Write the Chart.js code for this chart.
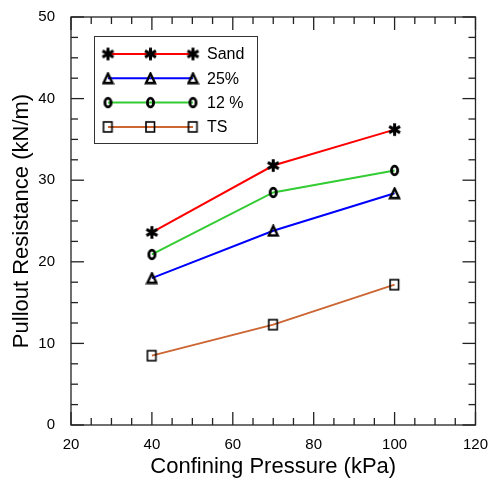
<!DOCTYPE html>
<html>
<head>
<meta charset="utf-8">
<script src="https://cdn.jsdelivr.net/npm/chart.js@4.4.0/dist/chart.umd.min.js"></script>
<style>
  html, body { margin: 0; padding: 0; background: #fff; }
  #wrap { width: 491px; height: 487px; }
</style>
</head>
<body>
<div id="wrap"><canvas id="chart"></canvas></div>
<script>
// pullout resistance vs confining pressure
const pressure = [40, 70, 100];
const sand = [23.6, 31.8, 36.2];
const pct25 = [18.0, 23.8, 28.4];
const pct12 = [20.9, 28.5, 31.2];
const ts = [8.5, 12.3, 17.2];
const seriesNames = ["Sand", "25%", "12 %", "TS"];
const xTicks = [20, 40, 60, 80, 100, 120];
const yTicks = [0, 10, 20, 30, 40, 50];

Chart.defaults.font.family = "'Liberation Sans', Arial, Helvetica, sans-serif";
Chart.defaults.color = "#000";

// small black marker glyphs used as pointStyle
function marker(w, h, draw) {
  const c = document.createElement("canvas");
  c.width = w; c.height = h;
  const g = c.getContext("2d");
  g.strokeStyle = "#000";
  draw(g, w, h);
  return c;
}
const starImg = marker(15, 15, g => {
  g.lineWidth = 3;
  for (let i = 0; i < 3; i++) {
    const t = Math.PI / 2 + i * Math.PI / 3;
    g.beginPath();
    g.moveTo(7.5 + 6.3 * Math.cos(t), 7.5 - 6.3 * Math.sin(t));
    g.lineTo(7.5 - 6.3 * Math.cos(t), 7.5 + 6.3 * Math.sin(t));
    g.stroke();
  }
});
const triImg = marker(13, 13, g => {
  g.lineWidth = 2.4;
  g.lineJoin = "miter";
  g.beginPath();
  g.moveTo(6.5, 1.8); g.lineTo(11, 11.2); g.lineTo(2, 11.2); g.closePath();
  g.stroke();
});
const circImg = marker(13, 13, g => {
  g.lineWidth = 2.8;
  g.beginPath();
  g.ellipse(6.5, 6.5, 3.1, 4.3, 0, 0, Math.PI * 2);
  g.stroke();
});
const sqImg = marker(13, 14, g => {
  g.lineWidth = 1.6;
  g.strokeRect(2, 2, 8.5, 10);
});

function series(label, data, color, img) {
  return {
    label,
    data: pressure.map((p, i) => ({ x: p, y: data[i] })),
    borderColor: color,
    backgroundColor: color,
    borderWidth: 2,
    pointStyle: img,
    pointRadius: 6,
    tension: 0
  };
}

// box frame with inward major/minor ticks on all four sides
const frameTicks = {
  id: "frameTicks",
  afterDatasetsDraw(chart) {
    const { ctx, chartArea: a, scales: { x, y } } = chart;
    ctx.save();
    ctx.strokeStyle = "#222";
    ctx.lineWidth = 1.3;
    ctx.strokeRect(a.left, a.top, a.right - a.left, a.bottom - a.top);
    const seg = (x1, y1, x2, y2) => { ctx.beginPath(); ctx.moveTo(x1, y1); ctx.lineTo(x2, y2); ctx.stroke(); };
    for (let v = x.min; v <= x.max; v += 5) {
      const px = x.getPixelForValue(v);
      const len = xTicks.includes(v) ? 13 : 7;
      seg(px, a.bottom, px, a.bottom - len);
      seg(px, a.top, px, a.top + len);
    }
    for (let v = y.min; v <= y.max; v += 2.5) {
      const py = y.getPixelForValue(v);
      const len = yTicks.includes(v) ? 13 : 7;
      seg(a.left, py, a.left + len, py);
      seg(a.right, py, a.right - len, py);
    }
    ctx.restore();
  }
};

// legend: each entry is a line with three markers
const lineLegend = {
  id: "lineLegend",
  afterDraw(chart) {
    const { ctx } = chart;
    ctx.save();
    ctx.strokeStyle = "#333";
    ctx.lineWidth = 1;
    ctx.strokeRect(94.5, 36.5, 163, 107);
    ctx.font = "16px 'Liberation Sans', Arial, sans-serif";
    ctx.textBaseline = "middle";
    ctx.fillStyle = "#000";
    chart.data.datasets.forEach((ds, i) => {
      const yy = 54 + i * 24.3;
      ctx.strokeStyle = ds.borderColor;
      ctx.lineWidth = 2;
      ctx.beginPath(); ctx.moveTo(108, yy); ctx.lineTo(193, yy); ctx.stroke();
      [108, 150.5, 193].forEach(mx => {
        ctx.drawImage(ds.pointStyle, mx - ds.pointStyle.width / 2, yy - ds.pointStyle.height / 2);
      });
      ctx.fillText(seriesNames[i], 207, yy + 1);
    });
    ctx.restore();
  }
};

new Chart(document.getElementById("chart"), {
  type: "line",
  data: {
    datasets: [
      series(seriesNames[0], sand, "#ff0000", starImg),
      series(seriesNames[1], pct25, "#0000ff", triImg),
      series(seriesNames[2], pct12, "#33cc33", circImg),
      series(seriesNames[3], ts, "#cc6633", sqImg)
    ]
  },
  options: {
    responsive: true,
    maintainAspectRatio: false,
    animation: false,
    layout: { padding: { top: 15, right: 12, left: 0, bottom: 0 } },
    plugins: { legend: { display: false }, tooltip: { enabled: false } },
    scales: {
      x: {
        type: "linear", min: 20, max: 120,
        afterFit: s => { s.height = 62; },
        afterBuildTicks: s => { s.ticks = xTicks.map(v => ({ value: v })); },
        grid: { display: false },
        border: { display: false },
        ticks: { font: { size: 15 }, padding: 3, maxRotation: 0 },
        title: { display: true, text: "Confining Pressure (kPa)", font: { size: 22 }, padding: { top: 0, bottom: 7 } }
      },
      y: {
        min: 0, max: 50,
        afterFit: s => { s.width = 71; },
        afterBuildTicks: s => { s.ticks = yTicks.map(v => ({ value: v })); },
        grid: { display: false },
        border: { display: false },
        ticks: { font: { size: 15 }, padding: 8 },
        title: { display: true, text: "Pullout Resistance (kN/m)", font: { size: 22 }, padding: { top: 9, bottom: 0 } }
      }
    }
  },
  plugins: [frameTicks, lineLegend]
});
</script>
</body>
</html>
